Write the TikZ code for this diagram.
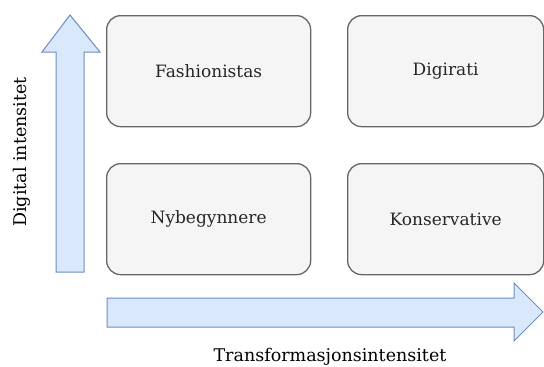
\documentclass[tikz,border=0pt]{standalone}
\usepackage{fontspec}
\setmainfont{DejaVu Serif}
\begin{document}
\begin{tikzpicture}[x=1pt,y=-1pt]
\useasboundingbox (0,0) rectangle (544,367);
\definecolor{arrfill}{HTML}{DAE8FC}
\definecolor{arrdraw}{HTML}{6C8EBF}
\definecolor{boxfill}{HTML}{F5F5F5}
\definecolor{boxdraw}{HTML}{666666}
\tikzset{
  quad/.style={draw=boxdraw, line width=1.3pt, fill=boxfill, rounded corners=14pt,
    minimum height=111pt, anchor=north west, inner sep=0pt,
    font=\fontsize{17}{20}\selectfont, text=black!85},
  bigarrow/.style={draw=arrdraw, fill=arrfill, line width=1pt, line join=miter},
  axislabel/.style={font=\fontsize{17.5}{20}\selectfont, text=black}}
% arrows
\draw[bigarrow] (56,272) -- (56,52) -- (42,52) -- (70,15) -- (100,52) -- (84,52) -- (84,272) -- cycle;
\draw[bigarrow] (107,298) -- (514,298) -- (514,283) -- (543,312) -- (514,341) -- (514,327) -- (107,327) -- cycle;
% boxes
\node[quad, minimum width=204pt] (fa) at (106,15) {Fashionistas};
\node[quad, minimum width=196pt] (di) at (347,15) {Digirati};
\node[quad, minimum width=204pt] (ny) at (106,163) {Nybegynnere};
\node[quad, minimum width=196pt] (ko) at (347,163) {Konservative};
% labels
\node[axislabel, rotate=90] (yl) at (22,152) {Digital intensitet};
\node[axislabel] (xl) at (330,357) {Transformasjonsintensitet};
\end{tikzpicture}
\end{document}
